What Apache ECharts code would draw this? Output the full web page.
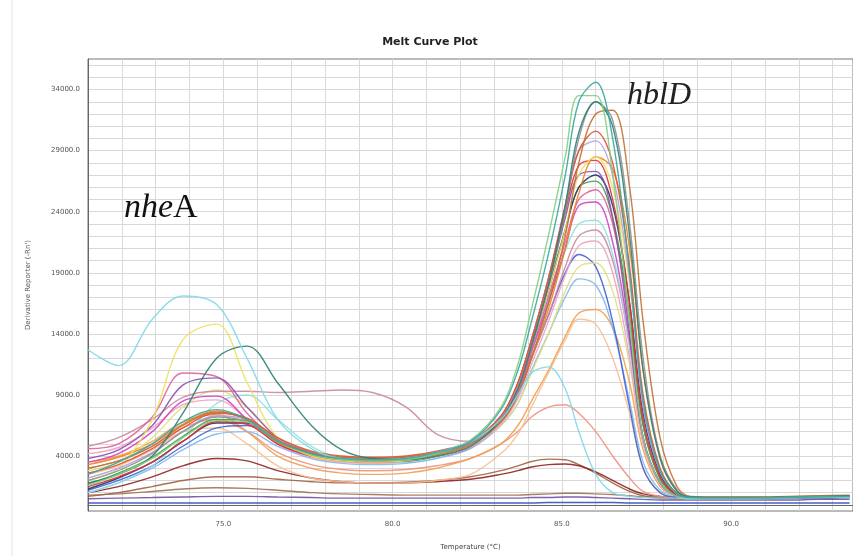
<!DOCTYPE html>
<html>
<head>
<meta charset="utf-8">
<script src="https://cdn.jsdelivr.net/npm/echarts@6/dist/echarts.min.js"></script>
<style>html,body{margin:0;padding:0;background:#fff}#c{width:853px;height:556px}</style>
</head>
<body>
<div id="c"></div>
<script>
// Temperatures (°C) at which the curves were read
const temps = [71.0,71.9,72.9,73.8,74.8,75.7,76.6,77.6,78.5,79.4,80.4,81.3,82.3,83.2,83.7,84.1,84.6,85.1,85.5,86.0,86.5,87.0,87.4,87.9,88.4,88.8,89.8,90.7,91.7,92.6,93.5];
// Tick labels
const xTickLabels = [75, 80, 85, 90];
const yTickLabels = [4000, 9000, 14000, 19000, 24000, 29000, 34000];
const xGridStep = 1;      // °C between vertical grid lines
const yGridStep = 1000;   // between horizontal grid lines

// Derivative reporter (-Rn') per well
const wA  = [2500,3500,5000,6800,7800,7000,5200,4200,3800,3700,3800,4300,5200,7800,11000,15000,20500,27000,33000,34600,30000,19000,8500,2800,900,600,550,550,600,650,700];
const wB  = [12700,11400,15200,17100,16400,12000,7000,4600,3800,3700,3800,4300,5200,7000,9000,10800,11300,9500,6000,2500,1000,700,600,550,550,500,500,500,550,600,650];
const wC  = [2000,3000,7000,13500,14800,10000,5500,4000,3600,3500,3600,4000,4800,7000,9500,13000,17500,22500,27000,28500,26000,18000,8500,3000,900,600,600,600,650,700,700];
const wD  = [1800,2500,4000,7500,12000,13000,10000,6500,4500,3800,3700,4000,4800,7000,9500,13000,18000,24500,30500,33000,31000,22000,11000,3800,1100,650,600,600,650,700,750];
const wE  = [4600,5000,7200,10800,10500,7500,5200,4100,3700,3600,3700,4200,5000,6800,9000,12500,17000,21500,25000,25800,23000,15000,6500,2200,800,550,550,550,600,650,650];
const wF  = [3800,4500,6500,9800,10400,8000,5500,4200,3800,3650,3700,4100,4900,7000,9500,13000,18000,23500,27000,27300,23500,14000,5500,1800,700,550,550,550,600,600,650];
const wG  = [4800,5500,7000,8800,9300,9300,9200,9300,9400,9200,8000,5800,5200,7000,9000,12000,15500,19500,22000,22500,20000,13000,5500,1800,700,500,500,500,550,600,600];
const wH  = [3500,4000,5200,6800,7400,6000,4000,3000,2600,2500,2600,3000,3800,5000,6500,8500,11000,13800,15700,16000,14500,10000,4500,1500,700,600,600,600,650,700,700];
const wI  = [2500,3200,4500,6000,6300,5000,3200,2200,1900,1800,1800,2000,2500,4200,5800,8000,10800,13500,15200,14800,12000,7500,3000,1000,600,550,550,550,600,650,650];
const wJ  = [1500,2300,3500,5200,6800,6600,5000,4000,3600,3500,3600,4000,4800,7200,10000,13500,18500,24000,27800,28200,25000,16500,7000,2300,800,600,550,550,600,650,700];
const wK  = [1200,2000,3200,4800,6300,6500,5200,4200,3700,3500,3500,3900,4700,6800,9000,12000,15500,19000,20500,19500,15000,8000,3000,1000,600,550,500,500,550,600,600];
const wL  = [1000,1800,3000,4500,5800,6000,4800,3800,3400,3300,3400,3800,4600,6500,8300,11000,14000,17000,18500,18000,14500,8500,3500,1200,600,500,500,500,550,550,600];
const wM  = [2000,2800,4200,6000,7200,6800,5200,4200,3800,3700,3800,4200,5000,7000,9500,13000,18000,24000,30000,33000,31500,23000,12000,4000,1200,650,600,600,650,700,750];
const wN  = [3000,3600,4800,6500,7600,7000,5300,4300,3900,3800,3900,4300,5000,6800,9000,12000,16500,22000,28000,32000,32300,26000,15000,5500,1500,700,650,650,700,750,800];
const wO  = [2200,3000,4300,6000,7300,7000,5400,4300,3900,3800,3900,4300,5100,7200,9800,13500,18500,24500,29000,29800,27000,18500,8000,2700,900,600,550,550,600,650,700];
const wP  = [1600,2500,3800,5500,6900,6800,5200,4100,3700,3600,3700,4200,5300,8000,11500,16000,22000,28500,33500,33500,27000,15000,5500,1800,700,550,550,550,600,650,650];
const wQ  = [1300,2200,3500,5200,6700,6700,5300,4200,3700,3600,3600,4000,4800,7000,9500,13000,17500,22500,26000,27000,24500,16500,7500,2500,800,550,550,550,600,600,650];
const wR  = [3300,3900,5000,6600,7700,6900,5100,4100,3700,3600,3700,4100,4900,6800,9000,12000,16000,21000,25500,28500,27500,21000,11000,4000,1200,650,600,600,650,700,700];
const wS  = [1000,1500,2300,3200,3800,3600,2800,2200,1900,1800,1800,1900,2100,2500,2800,3100,3300,3350,3200,2700,2000,1300,900,700,600,550,550,550,600,600,650];
const wT  = [700,1000,1500,2000,2300,2300,2100,1900,1800,1800,1850,2000,2300,2800,3200,3550,3750,3700,3300,2600,1800,1100,750,600,550,500,500,500,550,550,600];
const wU  = [3000,3600,4800,6300,7000,6000,4300,3300,2900,2800,2900,3200,3800,5000,6000,7200,8000,8200,7500,6000,4000,2200,1100,700,600,550,550,550,600,600,650];
const wW  = [150,150,150,150,150,150,150,150,150,150,150,150,150,150,150,150,200,200,200,200,200,150,150,150,150,150,150,150,150,150,150];
const wX  = [800,900,1100,1300,1400,1350,1200,1000,900,850,800,800,800,800,800,850,900,950,950,900,850,750,650,550,500,500,500,500,550,600,650];
const wY  = [500,550,600,650,700,700,650,600,550,550,550,550,550,550,550,600,600,650,650,600,550,500,450,400,400,400,400,400,400,450,450];
const wZ1 = [3500,4200,6000,8500,8900,7000,5000,4000,3700,3600,3650,4100,4900,6900,9200,12500,16500,21000,24500,24800,21500,13500,5500,1800,700,550,550,550,600,650,650];
const wZ2 = [1700,2600,3900,5600,7000,6900,5400,4300,3900,3800,3900,4300,5100,7200,9700,13200,17800,22500,26000,26500,23500,15500,6500,2100,750,550,550,550,600,650,650];
const wZ3 = [2600,3300,4600,6300,7500,7100,5500,4400,4000,3900,4000,4400,5200,7300,10000,13500,18500,24500,29000,30600,28000,19500,9000,3000,900,600,550,550,600,650,700];
const wZ4 = [4200,4700,6300,8200,8600,7000,5000,3900,3500,3400,3500,3900,4700,6600,8700,11500,15000,18800,21200,21600,19000,12000,5000,1700,700,550,550,550,600,650,650];
const wZ5 = [2800,3500,5500,8000,9400,8000,5500,4100,3600,3500,3600,4000,4800,6500,8300,10800,14000,17500,19500,19800,17500,11500,5000,1700,700,550,550,550,600,650,650];
const wZ6 = [1000,1800,3200,5500,8300,9000,7000,4800,3800,3500,3500,3900,4800,7000,9500,12800,16800,20800,23000,23300,20500,13000,5500,1800,700,550,550,550,600,650,650];

const wells = [
  ['W', wW, '#3050c0'], ['Y', wY, '#7050a0'], ['X', wX, '#a07050'], ['T', wT, '#a06040'], ['S', wS, '#902020'],
  ['U', wU, '#f09080'], ['I', wI, '#f8c090'], ['H', wH, '#f0a050'], ['L', wL, '#80b8f0'], ['K', wK, '#4060d0'],
  ['Z5', wZ5, '#e0e080'], ['Z4', wZ4, '#f0a0c0'], ['G', wG, '#c88aa0'], ['Z6', wZ6, '#90e0e0'], ['Z1', wZ1, '#d040c0'],
  ['E', wE, '#e0609a'], ['Z2', wZ2, '#40a040'], ['Q', wQ, '#2a3070'], ['F', wF, '#8a4fb0'], ['J', wJ, '#e03030'],
  ['R', wR, '#f08020'], ['C', wC, '#f0e060'], ['O', wO, '#b0a0e0'], ['Z3', wZ3, '#e05030'], ['N', wN, '#c07030'],
  ['M', wM, '#909090'], ['D', wD, '#2f7f73'], ['P', wP, '#80d080'], ['B', wB, '#7fd8e8'], ['A', wA, '#3aa6a0']
];

const xMin = 71, xMax = 93.6, yMin = -500, yMax = 36500;
const xGrid = [], yGrid = [];
for (let v = Math.ceil(xMin); v <= xMax; v += xGridStep) xGrid.push(v);
for (let v = 0; v <= yMax; v += yGridStep) yGrid.push(v);

const chart = echarts.init(document.getElementById('c'), null, {renderer: 'canvas'});
chart.setOption({
  animation: false,
  backgroundColor: '#fff',
  title: {
    text: 'Melt Curve Plot', left: 425, top: 32, textAlign: 'center',
    textStyle: {fontFamily: 'DejaVu Sans', fontSize: 11, fontWeight: 'bold', color: '#222'}
  },
  grid: {left: 88, right: -3, top: 59, bottom: 44, show: true, borderColor: '#777', borderWidth: 1, backgroundColor: '#fff'},
  xAxis: {
    type: 'value', min: xMin, max: xMax,
    name: 'Temperature (°C)', nameLocation: 'middle', nameGap: 33,
    nameTextStyle: {fontFamily: 'DejaVu Sans', fontSize: 7, color: '#444'},
    axisLine: {show: true, lineStyle: {color: '#666'}},
    axisTick: {show: false, customValues: xGrid},
    axisLabel: {customValues: xTickLabels, formatter: v => v.toFixed(1), fontFamily: 'DejaVu Sans', fontSize: 7, color: '#555', margin: 10},
    splitLine: {show: true, lineStyle: {color: '#d8d8d8', width: 1}}
  },
  yAxis: {
    type: 'value', min: yMin, max: yMax,
    name: "Derivative Reporter (-Rn')", nameLocation: 'middle', nameGap: 56, nameRotate: 90,
    nameTextStyle: {fontFamily: 'DejaVu Sans', fontSize: 7, color: '#555'},
    axisLine: {show: true, lineStyle: {color: '#666'}},
    axisTick: {show: false, customValues: yGrid},
    axisLabel: {customValues: yTickLabels, formatter: v => v.toFixed(1), fontFamily: 'DejaVu Sans', fontSize: 7, color: '#555', margin: 8},
    splitLine: {show: true, lineStyle: {color: '#d8d8d8', width: 1}}
  },
  graphic: [
    {type: 'line', shape: {x1: 12, y1: 0, x2: 12, y2: 556}, style: {stroke: '#e4e4e4', lineWidth: 1}, z: 0},
    {type: 'text', left: 124, top: 191, z: 100, style: {
      text: '{i|nhe}{n|A}', rich: {
        i: {fontFamily: 'Liberation Serif', fontStyle: 'italic', fontSize: 34, fill: '#111'},
        n: {fontFamily: 'Liberation Serif', fontSize: 34, fill: '#111'}
      }}},
    {type: 'text', left: 627, top: 80, z: 100, style: {
      text: 'hblD', fontFamily: 'Liberation Serif', fontStyle: 'italic', fontSize: 32, fill: '#222'}}
  ],
  series: wells.map(([name, vals, color]) => ({
    name, type: 'line', data: temps.map((t, i) => [t, vals[i]]),
    smooth: 0.35, showSymbol: false, clip: true,
    lineStyle: {color, width: 1.4, opacity: 0.9}
  }))
});
</script>
</body>
</html>
